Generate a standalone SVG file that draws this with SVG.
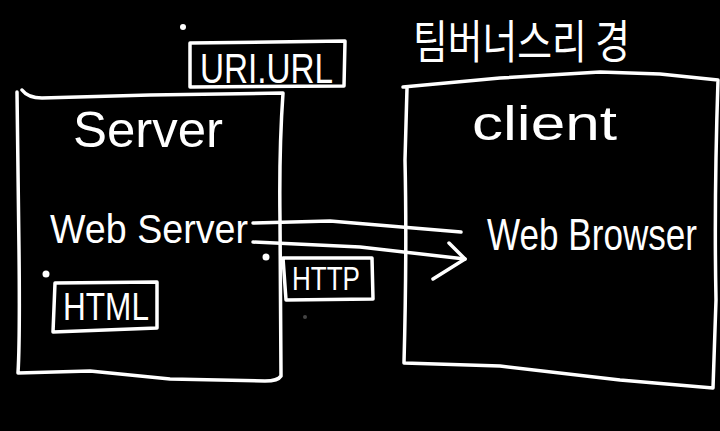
<svg xmlns="http://www.w3.org/2000/svg" width="720" height="431" viewBox="0 0 720 431">
<style>
.ln{fill:none;stroke:#fff;stroke-width:3.5;stroke-linecap:round;stroke-linejoin:round}
.t{fill:#fff;font-family:"Liberation Sans","Noto Sans",sans-serif}
.k{fill:#fff;font-family:"Noto Sans CJK KR",sans-serif}
.dot{fill:#fff}
</style>
<rect width="720" height="431" fill="#000"/>
<g id="title">
<text class="k" x="413" y="58" font-size="46" textLength="217" lengthAdjust="spacingAndGlyphs">팀버너스리 경</text>
</g>
<g id="server">
<path class="ln" d="M22,90 Q28,98 42,98 L150,95 L283,93 Q279,150 280,220 L281,376 Q278,381 265,381 L170,379 L90,371 L18,373 Q20,340 19,250 L17,92"/>
<text class="t" x="73" y="147" font-size="50" textLength="150" lengthAdjust="spacingAndGlyphs">Server</text>
<text class="t" x="50" y="243" font-size="40" textLength="198" lengthAdjust="spacingAndGlyphs">Web Server</text>
</g>
<g id="uri">
<path class="ln" d="M190,43 L345,41 L344,86 L190,87 Z"/>
<text class="t" x="200" y="83" font-size="42" textLength="133" lengthAdjust="spacingAndGlyphs">URI.URL</text>
<circle class="dot" cx="183" cy="27" r="3"/>
</g>
<g id="html">
<path class="ln" d="M55,283 L157,282 L157,328 L53,332 Z"/>
<text class="t" x="63" y="320" font-size="39" textLength="86" lengthAdjust="spacingAndGlyphs">HTML</text>
<circle class="dot" cx="46" cy="274" r="3.5"/>
</g>
<g id="http">
<path class="ln" d="M283,258 L372,258 L373,299 L286,300 Z"/>
<text class="t" x="292" y="290" font-size="33" textLength="68" lengthAdjust="spacingAndGlyphs">HTTP</text>
<circle class="dot" cx="266" cy="257" r="3.5"/>
</g>
<g id="client">
<path class="ln" d="M403,87 L500,78 L600,72 L660,74 L718,80 Q714,200 716,300 L713,388 L620,380 L500,366 L404,363 Q407,250 405,160 L407,88"/>
<text class="t" x="472" y="140" font-size="48" textLength="145" lengthAdjust="spacingAndGlyphs">client</text>
<text class="t" transform="translate(487,250) scale(1,1.25)" x="0" y="0" font-size="35" textLength="210" lengthAdjust="spacingAndGlyphs">Web Browser</text>
</g>
<g id="connectors">
<path class="ln" d="M253,223 L330,221 L461,232"/>
<path class="ln" d="M253,242 L360,247 L465,259"/>
<path class="ln" d="M449,243 L465,259 L433,279"/>
</g>
<circle cx="305" cy="317" r="2" fill="#444"/>
</svg>
